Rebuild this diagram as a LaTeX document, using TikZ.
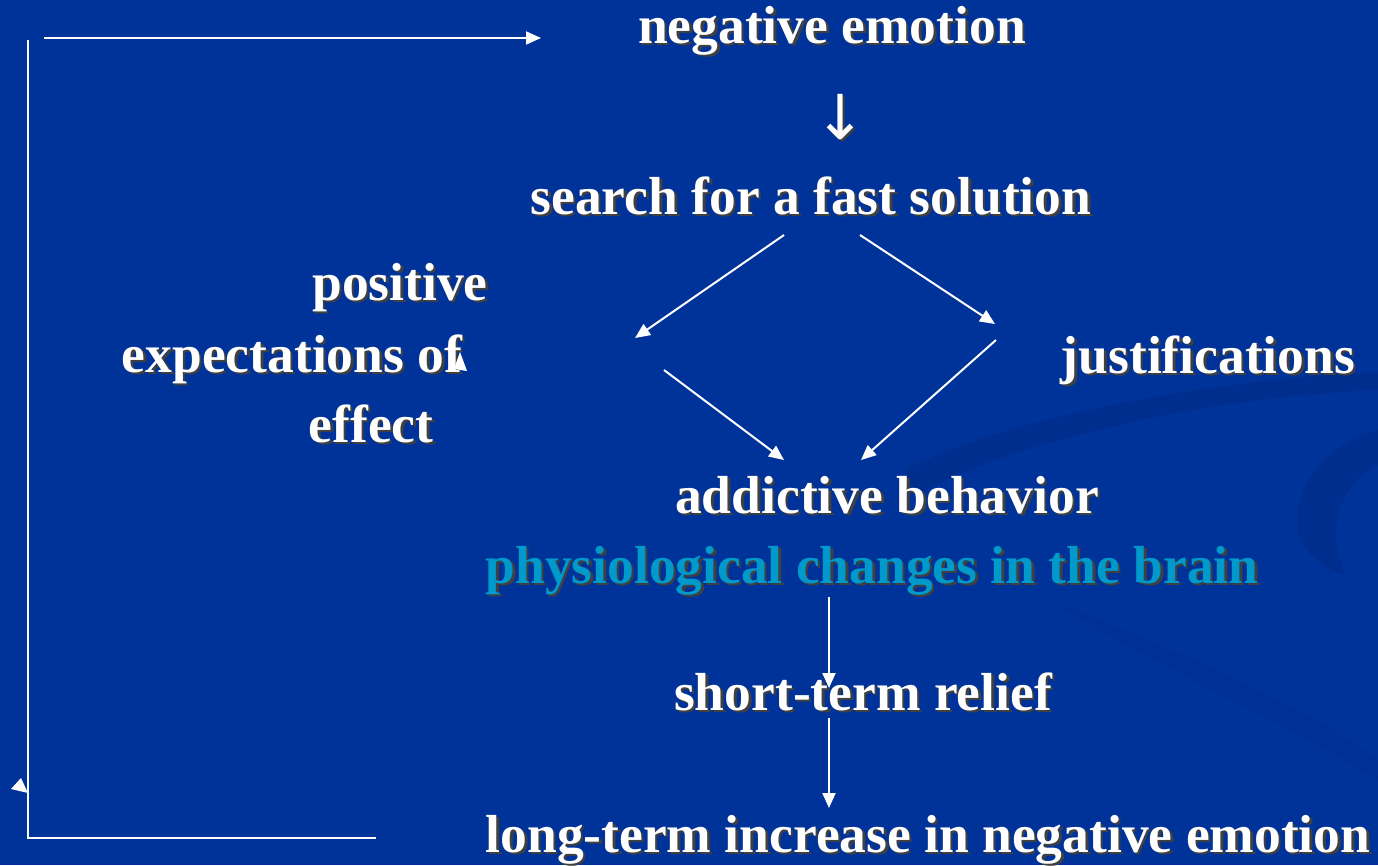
\documentclass[tikz,border=0pt]{standalone}
\usepackage{fontspec}
\setmainfont{Liberation Serif}
\newfontfamily\arrowfont{DejaVu Sans}
\usetikzlibrary{arrows.meta}
\definecolor{bgblue}{RGB}{0,51,153}
\definecolor{swirlc}{RGB}{0,46,143}
\definecolor{brainc}{RGB}{0,153,204}
\newcommand\shd[1]{\makebox[0pt][l]{\kern2.5pt\raisebox{-2.5pt}{\color{black!75}#1}}#1}
\tikzset{
  lbl/.style={text=white, font=\fontsize{53.5}{60}\selectfont\bfseries, inner sep=0pt, anchor=base},
  conn/.style={draw=white, line width=2pt, -{Triangle[length=15pt,width=13pt]}},
  plainline/.style={draw=white, line width=2pt},
  tip/.style={fill=white, draw=none}
}
\begin{document}
\begin{tikzpicture}[x=1pt,y=-1pt]
\fill[bgblue] (0,0) rectangle (1378,865);
\useasboundingbox (0,0) rectangle (1378,865);
% background swirls
\fill[swirlc] (905,470) .. controls (1000,420) and (1200,380) .. (1378,372)
  -- (1378,390) .. controls (1200,398) and (1020,440) .. (915,495) -- cycle;
\fill[swirlc] (1378,430) .. controls (1310,450) and (1290,500) .. (1300,540)
  .. controls (1310,560) and (1330,570) .. (1345,575)
  .. controls (1330,540) and (1330,490) .. (1378,465) -- cycle;
\fill[swirlc, opacity=0.5] (1050,600) .. controls (1150,640) and (1300,700) .. (1378,760)
  -- (1378,780) .. controls (1290,725) and (1150,665) .. (1050,600) -- cycle;
% text nodes
\node[lbl] (neg) at (832,43) {\shd{negative emotion}};
\node[text=white, inner sep=0pt, font=\arrowfont\fontsize{62}{70}\selectfont] (down) at (840,118) {\shd{↓}};
\node[lbl] (search) at (811,214) {\shd{search for a fast solution}};
\node[lbl] (pos1) at (400,300) {\shd{positive}};
\node[lbl] (pos2) at (292,372) {\shd{expectations of}};
\node[lbl] (pos3) at (371,442) {\shd{effect}};
\node[lbl] (just) at (1208,373) {\shd{justifications}};
\node[lbl] (addict) at (887,513) {\shd{addictive behavior}};
\node[lbl, text=brainc] (brain) at (872,583) {\shd{physiological changes in the brain}};
\node[lbl] (relief) at (863,710) {\shd{short-term relief}};
\node[lbl] (longterm) at (928,852) {\shd{long-term increase in negative emotion}};
% connector endpoints
\coordinate (sL) at (784,235);
\coordinate (sR) at (860,235);
\coordinate (lIn) at (635,338);
\coordinate (rIn) at (995,324);
\coordinate (lOut) at (664,370);
\coordinate (rOut) at (996,340);
\coordinate (aL) at (784,460);
\coordinate (aR) at (861,460);
\coordinate (bOut) at (829,597);
\coordinate (rlIn) at (829,688);
\coordinate (rlOut) at (829,718);
\coordinate (ltIn) at (829,808);
\coordinate (loopA) at (376,838);
\coordinate (loopB) at (28,838);
\coordinate (loopC) at (28,40);
\coordinate (topA) at (44,38);
\coordinate (topB) at (541,38);
% connectors
\draw[conn] (sL) -- (lIn);
\draw[conn] (sR) -- (rIn);
\draw[conn] (lOut) -- (aL);
\draw[conn] (rOut) -- (aR);
\draw[conn] (bOut) -- (rlIn);
\draw[conn] (rlOut) -- (ltIn);
\draw[plainline] (loopA) -- (loopB) -- (loopC);
\draw[conn] (topA) -- (topB);
% stray arrowheads
\fill[tip] (454,369) -- (467,371) -- (460,352) -- cycle;
\fill[tip] (11,789) -- (28,793) -- (21,778) -- cycle;
\end{tikzpicture}
\end{document}
